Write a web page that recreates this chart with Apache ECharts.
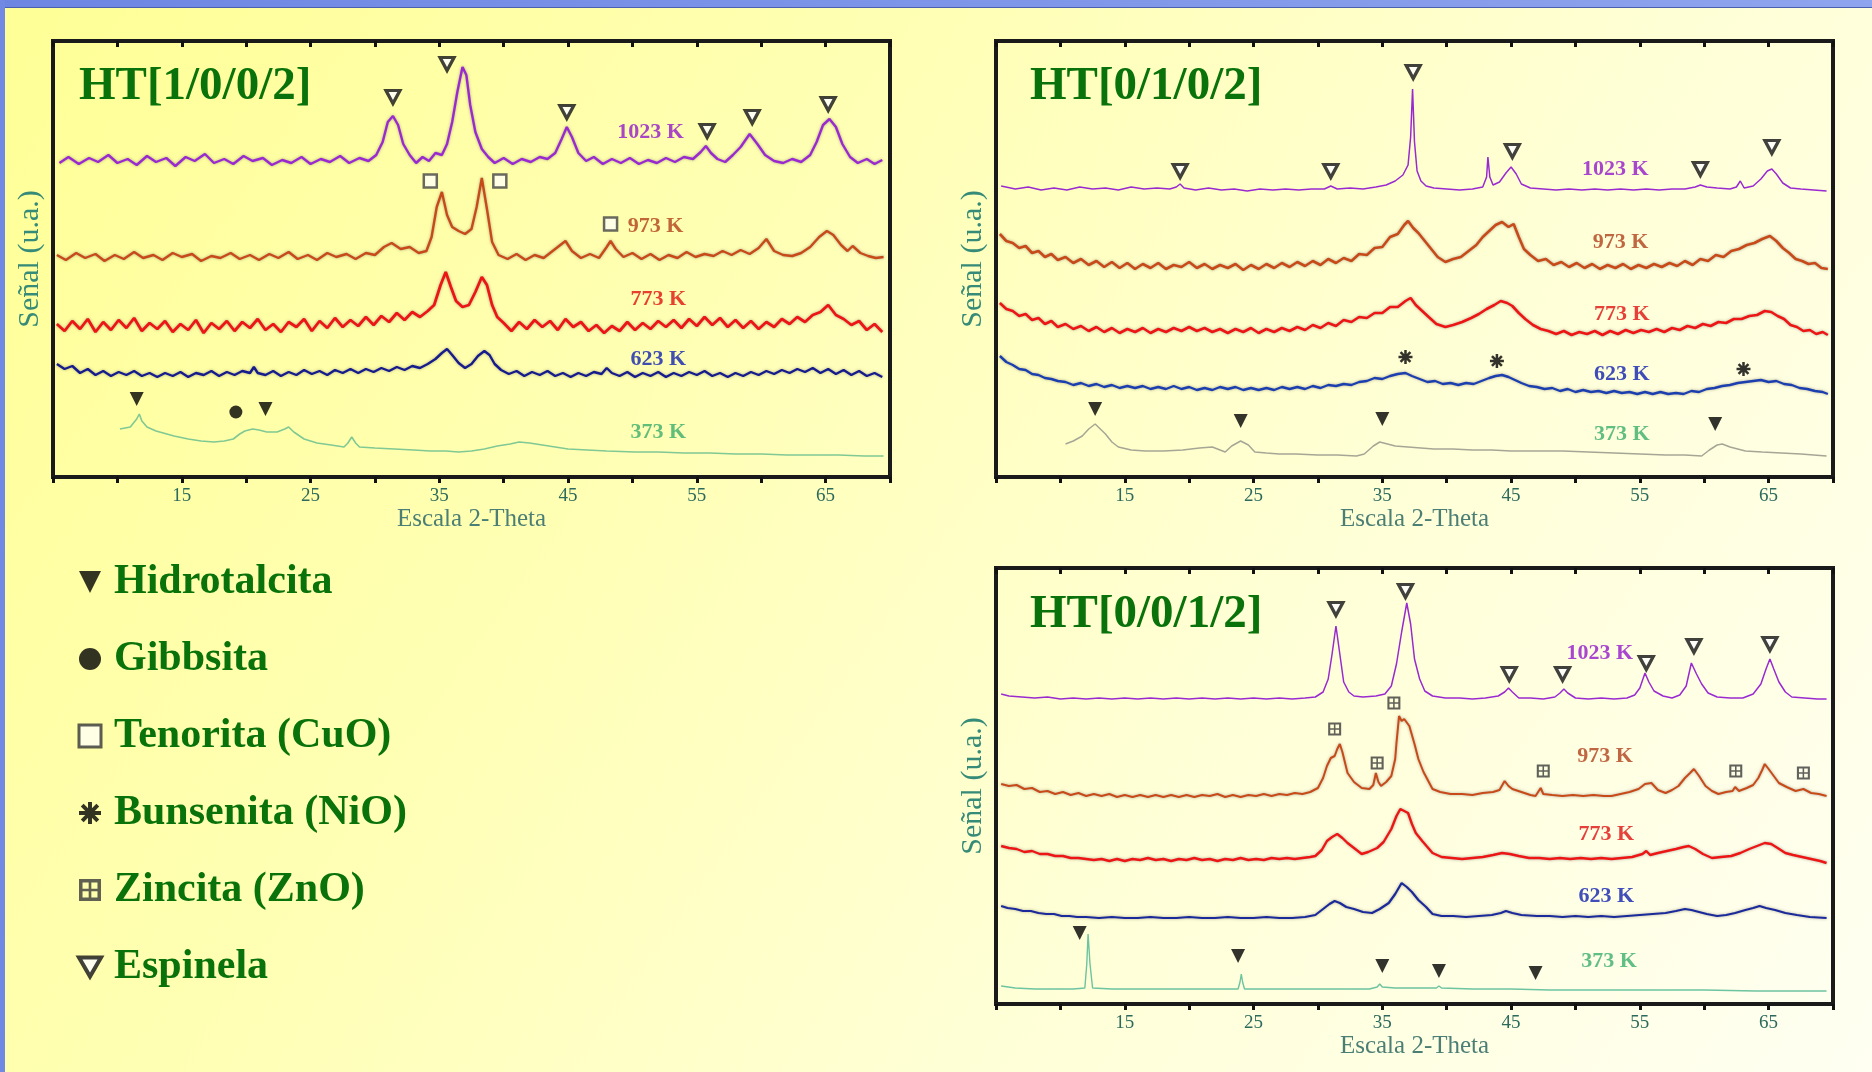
<!DOCTYPE html>
<html>
<head>
<meta charset="utf-8">
<script src="https://cdn.jsdelivr.net/npm/echarts@6/dist/echarts.min.js"></script>
<style>
  html, body { margin: 0; padding: 0; }
  body {
    width: 1872px; height: 1072px; overflow: hidden; position: relative;
    background: linear-gradient(125deg, #ffff96 0%, #ffffb4 35%, #ffffd6 65%, #fffff2 100%);
  }
  .bar-top { position: absolute; left: 0; top: 0; width: 1872px; height: 7px;
    background: linear-gradient(90deg, #6d86e2, #8ea4ee); border-bottom: 1px solid #4a5fb0; }
  .bar-left { position: absolute; left: 0; top: 0; width: 5px; height: 1072px; background: #7189e2; }
  #main { position: absolute; left: 0; top: 0; width: 1872px; height: 1072px; }
</style>
</head>
<body>
<div class="bar-top"></div>
<div class="bar-left"></div>
<div id="main"></div>
<script>
// 2-theta axis
const X_MIN = 5, X_MAX = 70, X_STEP = 5
const tickLabels = ['15', '25', '35', '45', '55', '65']
const temps = ['1023 K', '973 K', '773 K', '623 K', '373 K']
const phases = ['Hidrotalcita', 'Gibbsita', 'Tenorita (CuO)', 'Bunsenita (NiO)', 'Zincita (ZnO)', 'Espinela']
const titles = ['HT[1/0/0/2]', 'HT[0/1/0/2]', 'HT[0/0/1/2]']

// ---- HT[1/0/0/2] traces [2theta, signal] ----
const ht1_1023 = [[5.5,314],[6.2,320],[7,313],[7.8,319],[8.5,315],[9.3,322],[10,314],[10.8,318],[11.5,312],[12.3,321],[13,315],[13.8,319],[14.5,311],[15.3,320],[16,316],[16.8,323],[17.5,314],[18.3,318],[19,313],[19.8,321],[20.5,316],[21.3,319],[22,312],[22.8,317],[23.5,314],[24.3,320],[25,313],[25.8,318],[26.5,315],[27.3,321],[28,314],[28.8,319],[29.5,316],[30.1,322],[30.6,335],[31,355],[31.4,361],[31.8,352],[32.2,333],[32.7,322],[33.2,314],[33.7,320],[34.2,316],[34.7,324],[35.2,322],[35.6,333],[36,355],[36.4,385],[36.8,410],[37.1,402],[37.4,372],[37.8,345],[38.3,328],[38.8,320],[39.3,314],[40,319],[40.7,313],[41.4,318],[42.1,315],[42.8,320],[43.4,318],[44,324],[44.5,338],[44.9,350],[45.3,340],[45.8,324],[46.4,316],[47,320],[47.7,313],[48.4,318],[49.1,314],[49.8,319],[50.5,313],[51.2,317],[51.9,314],[52.6,319],[53.3,315],[54,320],[54.7,318],[55.3,325],[55.7,331],[56.1,324],[56.6,318],[57.2,315],[57.8,322],[58.4,330],[59.1,343],[59.7,333],[60.3,322],[61,316],[61.7,314],[62.4,318],[63.1,315],[63.8,322],[64.3,335],[64.8,352],[65.3,358],[65.8,350],[66.3,333],[66.9,320],[67.5,314],[68.2,318],[68.8,313],[69.4,317]]
const ht1_973 = [[5.3,222],[6,217],[6.8,224],[7.5,219],[8.3,223],[9,216],[9.8,222],[10.5,218],[11.3,225],[12,219],[12.8,222],[13.5,217],[14.3,224],[15,220],[15.8,223],[16.5,216],[17.3,221],[18,219],[18.8,224],[19.5,218],[20.3,222],[21,217],[21.8,223],[22.5,219],[23.3,225],[24,218],[24.8,222],[25.5,217],[26.3,224],[27,220],[27.8,223],[28.5,218],[29.3,224],[30,222],[30.7,230],[31.3,234],[32,228],[32.7,230],[33.4,224],[34,226],[34.4,240],[34.8,270],[35.2,285],[35.6,262],[36,250],[36.5,246],[37,243],[37.5,248],[37.9,270],[38.3,299],[38.7,268],[39.1,235],[39.6,222],[40.3,218],[41,223],[41.7,217],[42.4,222],[43.1,219],[43.8,226],[44.4,232],[44.8,236],[45.3,226],[46,219],[46.7,223],[47.4,219],[48,230],[48.3,236],[48.7,228],[49.3,220],[50,224],[50.7,218],[51.4,223],[52.1,217],[52.8,222],[53.5,219],[54.2,225],[54.9,220],[55.6,223],[56.3,221],[57,226],[57.7,222],[58.4,227],[59.1,223],[59.8,229],[60.4,238],[61,226],[61.7,222],[62.4,221],[63.1,224],[63.8,230],[64.5,240],[65.1,246],[65.6,242],[66.2,232],[66.7,226],[67.1,231],[67.7,224],[68.3,221],[68.9,219],[69.5,220]]
const ht1_773 = [[5.3,153],[5.9,146],[6.5,156],[7.1,148],[7.7,158],[8.3,145],[8.9,155],[9.5,147],[10.1,157],[10.7,149],[11.3,159],[11.9,146],[12.5,154],[13.1,148],[13.7,156],[14.3,145],[14.9,153],[15.5,147],[16.1,157],[16.7,144],[17.3,154],[17.9,148],[18.5,156],[19.1,146],[19.7,155],[20.3,149],[20.9,158],[21.5,147],[22.1,153],[22.7,145],[23.3,155],[23.9,150],[24.5,158],[25.1,146],[25.7,156],[26.3,149],[26.9,159],[27.5,150],[28.1,157],[28.7,151],[29.3,160],[29.9,152],[30.5,161],[31.1,155],[31.7,164],[32.3,157],[32.9,165],[33.5,160],[34.1,166],[34.6,172],[35.1,192],[35.5,205],[35.9,190],[36.3,176],[36.8,170],[37.3,172],[37.8,185],[38.3,200],[38.7,192],[39.1,172],[39.5,160],[40,154],[40.6,146],[41.2,155],[41.8,148],[42.4,157],[43,150],[43.6,156],[44.2,147],[44.8,158],[45.4,150],[46,155],[46.6,146],[47.2,152],[47.8,144],[48.4,151],[49,146],[49.6,155],[50.2,147],[50.8,154],[51.4,148],[52,156],[52.6,150],[53.2,157],[53.8,149],[54.4,158],[55,151],[55.6,160],[56.2,152],[56.8,159],[57.4,150],[58,157],[58.6,149],[59.2,156],[59.8,148],[60.4,155],[61,150],[61.6,158],[62.2,153],[62.8,160],[63.4,155],[64,162],[64.6,165],[65.2,172],[65.8,162],[66.4,158],[67,152],[67.6,156],[68.2,147],[68.8,153],[69.4,145]]
const ht1_623 = [[5.3,113],[5.9,108],[6.5,111],[7.1,104],[7.7,108],[8.3,102],[8.9,106],[9.5,101],[10.1,105],[10.7,102],[11.3,106],[11.9,101],[12.5,104],[13.1,100],[13.7,104],[14.3,101],[14.9,105],[15.5,100],[16.1,104],[16.7,102],[17.3,106],[17.9,101],[18.5,105],[19.1,102],[19.7,106],[20.3,104],[20.6,110],[20.9,104],[21.5,102],[22.1,106],[22.7,101],[23.3,105],[23.9,102],[24.5,107],[25.1,103],[25.7,106],[26.3,102],[26.9,107],[27.5,104],[28.1,108],[28.7,104],[29.3,108],[29.9,105],[30.5,109],[31.1,106],[31.7,110],[32.3,107],[32.9,111],[33.5,109],[34.1,113],[34.7,118],[35.2,124],[35.6,128],[36,122],[36.5,114],[37,109],[37.5,113],[38,121],[38.5,126],[38.9,122],[39.3,113],[39.8,107],[40.4,103],[41,106],[41.6,101],[42.2,105],[42.8,102],[43.4,106],[44,101],[44.6,104],[45.2,100],[45.8,104],[46.4,101],[47,105],[47.6,103],[48,109],[48.4,104],[49,101],[49.6,105],[50.2,100],[50.8,104],[51.4,101],[52,105],[52.6,100],[53.2,104],[53.8,101],[54.4,105],[55,102],[55.6,106],[56.2,101],[56.8,104],[57.4,100],[58,104],[58.6,101],[59.2,105],[59.8,102],[60.4,106],[61,103],[61.6,107],[62.2,104],[62.8,108],[63.4,105],[64,109],[64.6,104],[65.2,108],[65.8,103],[66.4,107],[67,102],[67.6,106],[68.2,101],[68.8,104],[69.4,100]]
const ht1_373 = [[10.2,48],[11,50],[11.5,58],[11.7,63],[11.9,56],[12.3,50],[13,46],[14.4,41],[15.5,38],[16.5,36],[17.5,35],[18.3,36],[19,38],[19.5,43],[19.9,46],[20.5,48],[21,47],[21.6,45],[22.4,45],[23,48],[23.3,50],[23.7,45],[24.5,38],[25.5,34],[26.6,32],[27.6,30],[27.9,34],[28.2,40],[28.5,34],[28.8,30],[30,29],[31.5,28],[33,27],[34.3,26],[35.5,26],[36.5,25],[37.5,26],[38.5,28],[39.5,31],[40.5,33],[41.2,35],[42,34],[43,32],[44,30],[45,28],[46.5,27],[48,26],[50.2,25],[52,25],[54,24],[56,24],[58,23],[60,23],[62,22],[64,22],[66,22],[68,21],[69.5,21]]

// ---- HT[0/1/0/2] ----
const ht2_1023 = [[5.4,291],[6.5,288],[7.5,290],[8.5,287],[9.5,289],[10.5,287],[11.5,290],[12.5,288],[13.5,289],[14.5,287],[15.5,290],[16.5,288],[17.5,289],[18.5,288],[19,290],[19.3,293],[19.6,289],[20.5,287],[21.5,289],[22.5,287],[23.5,288],[24.5,286],[25.5,288],[26.5,287],[27.5,288],[28.5,287],[29.5,288],[30.5,288],[31,291],[31.5,288],[32.5,289],[33.5,288],[34.5,290],[35.3,292],[36,296],[36.6,302],[37,312],[37.2,340],[37.35,388],[37.5,335],[37.7,306],[38,296],[38.4,291],[39,289],[40,288],[41,287],[42,288],[42.8,290],[43.1,300],[43.2,320],[43.35,300],[43.6,292],[44.1,295],[44.6,304],[45,310],[45.4,303],[45.8,293],[46.5,289],[47.5,288],[48.5,287],[49.5,288],[50.5,287],[51.5,288],[52.5,287],[53.5,288],[54.5,287],[55.5,288],[56.5,287],[57.5,288],[58.5,288],[59.3,290],[59.7,292],[60.2,290],[61,289],[62,288],[62.5,290],[62.8,296],[63.1,289],[63.8,291],[64.4,298],[64.9,306],[65.25,308],[65.6,303],[66.1,294],[66.7,289],[67.5,288],[68.5,287],[69.5,286]]
const ht2_973 = [[5.3,243],[5.8,236],[6.3,234],[6.8,229],[7.3,231],[7.8,224],[8.3,226],[8.8,220],[9.3,223],[9.8,217],[10.4,220],[11,214],[11.6,218],[12.2,212],[12.8,216],[13.4,210],[14,215],[14.6,209],[15.2,214],[15.8,208],[16.4,213],[17,209],[17.6,214],[18.2,208],[18.8,212],[19.4,210],[20,215],[20.6,209],[21.2,213],[21.8,208],[22.4,212],[23,209],[23.6,213],[24.2,207],[24.8,212],[25.4,208],[26,213],[26.6,209],[27.2,214],[27.8,210],[28.4,215],[29,211],[29.6,216],[30.2,212],[30.8,218],[31.4,214],[32,219],[32.6,216],[33.2,223],[33.8,222],[34.4,229],[35,230],[35.6,240],[36.2,243],[36.7,252],[37,256],[37.4,249],[37.8,244],[38.3,236],[38.8,228],[39.3,220],[39.9,215],[40.5,218],[41.1,220],[41.7,226],[42.3,232],[42.8,240],[43.3,246],[43.8,252],[44.3,255],[44.8,250],[45.2,253],[45.6,240],[46,228],[46.5,222],[47.1,216],[47.7,218],[48.3,212],[48.9,215],[49.5,210],[50.1,214],[50.7,209],[51.3,213],[51.9,208],[52.5,212],[53.1,209],[53.7,213],[54.3,208],[54.9,212],[55.5,209],[56.1,213],[56.7,210],[57.3,214],[57.9,211],[58.5,216],[59.1,212],[59.7,218],[60.3,216],[60.9,222],[61.5,220],[62.1,226],[62.7,228],[63.3,232],[63.9,234],[64.5,238],[65.1,241],[65.6,236],[66.1,229],[66.6,224],[67.1,218],[67.6,216],[68.1,213],[68.6,214],[69.1,209],[69.6,208]]
const ht2_773 = [[5.3,174],[5.8,168],[6.3,166],[6.8,161],[7.3,163],[7.8,157],[8.3,159],[8.8,153],[9.3,156],[9.8,150],[10.4,153],[11,148],[11.6,151],[12.2,146],[12.8,150],[13.4,145],[14,149],[14.6,144],[15.2,148],[15.8,145],[16.4,149],[17,144],[17.6,148],[18.2,145],[18.8,149],[19.4,146],[20,150],[20.6,146],[21.2,149],[21.8,145],[22.4,148],[23,144],[23.6,148],[24.2,145],[24.8,149],[25.4,144],[26,148],[26.6,145],[27.2,149],[27.8,146],[28.4,150],[29,147],[29.6,152],[30.2,149],[30.8,154],[31.4,151],[32,157],[32.6,155],[33.2,160],[33.8,159],[34.4,164],[35,164],[35.6,170],[36.2,170],[36.8,176],[37.2,179],[37.6,172],[38.1,166],[38.6,160],[39.2,153],[39.9,150],[40.5,152],[41.2,155],[41.9,159],[42.5,163],[43.1,168],[43.7,172],[44.2,176],[44.7,174],[45.1,171],[45.6,164],[46.1,158],[46.7,152],[47.3,148],[47.9,146],[48.5,143],[49.1,146],[49.7,142],[50.3,145],[50.9,143],[51.5,146],[52.1,142],[52.7,146],[53.3,143],[53.9,147],[54.5,144],[55.1,147],[55.7,145],[56.3,148],[56.9,145],[57.5,149],[58.1,147],[58.7,151],[59.3,149],[59.9,153],[60.5,151],[61.1,155],[61.7,154],[62.3,158],[62.9,158],[63.5,161],[64.1,162],[64.7,166],[65.2,165],[65.7,161],[66.2,158],[66.7,152],[67.2,150],[67.7,146],[68.2,147],[68.7,143],[69.2,145],[69.6,142]]
const ht2_623 = [[5.3,121],[5.8,115],[6.3,112],[6.8,108],[7.3,107],[7.8,103],[8.3,102],[8.8,99],[9.3,98],[9.8,96],[10.4,95],[11,92],[11.6,94],[12.2,91],[12.8,93],[13.4,90],[14,92],[14.6,89],[15.2,91],[15.8,89],[16.4,91],[17,88],[17.6,90],[18.2,88],[18.8,91],[19.4,88],[20,90],[20.6,87],[21.2,89],[21.8,87],[22.4,90],[23,88],[23.6,90],[24.2,87],[24.8,89],[25.4,87],[26,89],[26.6,87],[27.2,90],[27.8,88],[28.4,90],[29,88],[29.6,91],[30.2,89],[30.8,92],[31.4,91],[32,93],[32.6,92],[33.2,95],[33.8,96],[34.4,99],[35,98],[35.6,101],[36.2,103],[36.8,104],[37.3,101],[37.9,98],[38.5,95],[39.1,96],[39.7,93],[40.3,94],[40.9,92],[41.5,94],[42.1,93],[42.7,96],[43.3,99],[43.8,101],[44.3,102],[44.8,100],[45.3,97],[45.8,94],[46.4,91],[47,90],[47.6,88],[48.2,89],[48.8,86],[49.4,88],[50,85],[50.6,87],[51.2,85],[51.8,86],[52.4,84],[53,86],[53.6,84],[54.2,85],[54.8,83],[55.4,85],[56,83],[56.6,85],[57.2,83],[57.8,84],[58.4,83],[59,86],[59.6,85],[60.2,88],[60.8,89],[61.4,91],[62,92],[62.6,94],[63.2,95],[63.8,96],[64.4,97],[65,95],[65.6,96],[66.2,93],[66.8,92],[67.4,89],[68,88],[68.6,86],[69.2,85],[69.6,83]]
const ht2_373 = [[10.4,33],[11,36],[11.7,41],[12.2,48],[12.7,53],[13.1,48],[13.5,43],[14,35],[14.5,30],[15.5,27],[16.6,26],[18,26],[19.5,27],[20.8,29],[21.8,30],[22.8,25],[23.3,31],[24,36],[24.6,32],[25.1,25],[26,24],[27,23],[28.3,23],[30,22],[31.5,22],[33,21],[33.6,23],[34.3,31],[34.8,35],[35.4,33],[36,31],[37,30],[38,29],[39,28],[40.5,28],[42,27],[43.5,27],[45,26],[47,26],[49,26],[51,25],[53,24],[55,23],[57,22],[58.5,22],[59.8,21],[60.4,27],[61,32],[61.4,33],[62,30],[62.6,28],[63.2,26],[64.5,25],[66,24],[67.5,23],[69.5,21]]

// ---- HT[0/0/1/2] ----
const ht3_1023 = [[5.4,310],[6,308],[7,307],[8,306],[9,307],[10,305],[11,306],[12,305],[13,306],[14,305],[15,306],[16,305],[17,306],[18,305],[19,306],[20,305],[21,306],[22,305],[23,306],[24,305],[25,306],[26,305],[27,306],[28,305],[29,306],[29.8,307],[30.4,312],[30.8,325],[31.1,350],[31.4,378],[31.7,350],[32,322],[32.4,312],[32.8,308],[33.5,307],[34.5,308],[35.2,310],[35.7,318],[36.1,340],[36.5,372],[36.9,401],[37.2,380],[37.5,345],[37.9,325],[38.3,313],[38.9,308],[39.9,306],[41,306],[42,305],[43,306],[44,308],[44.5,312],[44.8,316],[45.1,312],[45.6,306],[46.5,306],[47.5,305],[48.4,307],[48.8,311],[49.1,315],[49.4,311],[50,306],[51,305],[52,306],[53,305],[54,306],[54.6,309],[55,316],[55.4,331],[55.7,322],[56.1,313],[56.8,308],[57.5,306],[58.1,309],[58.6,318],[59,341],[59.4,330],[59.8,320],[60.3,311],[61,307],[62,306],[63,306],[63.8,310],[64.4,320],[64.8,335],[65.1,345],[65.4,335],[65.8,322],[66.3,312],[66.8,307],[67.8,306],[68.8,305],[69.5,305]]
const ht3_973 = [[5.4,220],[6,218],[6.6,219],[7.2,215],[7.8,216],[8.4,212],[9,213],[9.6,210],[10.2,212],[10.8,209],[11.4,211],[12,208],[12.6,210],[13.2,208],[13.8,210],[14.4,207],[15,209],[15.6,207],[16.2,209],[16.8,207],[17.4,209],[18,207],[18.6,209],[19.2,207],[19.8,209],[20.4,207],[21,209],[21.6,208],[22.2,210],[22.8,207],[23.4,209],[24,207],[24.6,209],[25.2,208],[25.8,210],[26.4,208],[27,210],[27.6,209],[28.2,211],[28.8,210],[29.4,212],[30,216],[30.4,226],[30.7,238],[31,246],[31.3,248],[31.5,255],[31.7,260],[31.9,252],[32.3,231],[32.8,222],[33.4,216],[34,215],[34.3,219],[34.5,231],[34.7,222],[34.9,218],[35.3,222],[35.7,228],[36,245],[36.1,261],[36.3,288],[36.5,283],[36.7,285],[37.1,278],[37.5,260],[37.8,245],[38.2,232],[38.9,215],[39.5,212],[40.3,210],[41.2,210],[42,209],[42.8,211],[43.6,212],[44.1,214],[44.5,223],[44.8,218],[45.1,215],[45.8,212],[46.5,209],[46.9,208],[47.3,216],[47.5,210],[48.2,209],[49,208],[49.8,209],[50.6,208],[51.4,209],[52.2,208],[52.8,208],[53.5,210],[54.2,212],[54.9,215],[55.4,220],[55.9,221],[56.4,214],[57,211],[57.5,214],[58,218],[58.5,226],[58.9,231],[59.2,235],[59.6,228],[60.1,218],[60.6,213],[61.1,210],[61.7,212],[62.2,213],[62.4,217],[62.7,213],[63.3,216],[63.8,219],[64.2,226],[64.5,234],[64.7,240],[65,235],[65.4,228],[65.8,221],[66.4,217],[67.1,213],[67.7,215],[68.3,211],[68.9,210],[69.5,208]]
const ht3_773 = [[5.4,158],[6,156],[6.6,155],[7.2,152],[7.8,153],[8.4,150],[9,150],[9.6,148],[10.2,148],[10.8,146],[11.4,146],[12,145],[12.6,144],[13.2,145],[13.8,143],[14.4,145],[15,143],[15.6,145],[16.2,144],[16.8,146],[17.4,144],[18,145],[18.6,143],[19.2,145],[19.8,144],[20.4,146],[21,144],[21.6,145],[22.2,143],[22.8,145],[23.4,144],[24,146],[24.6,144],[25.2,145],[25.8,144],[26.4,146],[27,145],[27.6,146],[28.2,145],[28.8,146],[29.4,147],[29.8,148],[30.3,154],[30.7,163],[31.1,167],[31.5,170],[31.9,166],[32.3,161],[32.8,156],[33.4,150],[33.9,152],[34.6,156],[35.1,162],[35.7,175],[36.1,188],[36.4,195],[36.7,193],[37,191],[37.3,180],[37.6,171],[38.1,163],[38.9,151],[39.6,147],[40.4,146],[41.2,145],[42,146],[42.8,147],[43.6,149],[44.3,151],[44.9,150],[45.6,148],[46.4,146],[47.2,146],[48,145],[48.8,146],[49.6,145],[50.4,146],[51.2,145],[52,146],[52.8,145],[53.6,146],[54.4,147],[55.2,150],[55.5,153],[55.8,149],[56.4,151],[57.1,153],[57.8,155],[58.4,157],[58.8,158],[59.3,155],[59.9,150],[60.6,146],[61.3,147],[62.1,148],[62.8,151],[63.5,155],[64.1,158],[64.7,161],[65.2,160],[65.7,156],[66.3,151],[66.9,149],[67.6,147],[68.3,145],[69,143],[69.5,141]]
const ht3_623 = [[5.4,98],[5.9,96],[6.5,95],[7.1,93],[7.7,93],[8.3,91],[8.9,90],[9.5,90],[10.1,88],[10.7,88],[11.3,87],[12,87],[13,86],[14,87],[15,86],[16,86],[17,87],[18,86],[19,86],[20,87],[21,86],[22,86],[23,87],[24,86],[25,86],[26,87],[27,86],[28,86],[29,87],[29.8,89],[30.4,95],[30.9,100],[31.3,103],[31.7,101],[32.2,97],[32.8,95],[33.5,92],[34.2,91],[34.8,95],[35.5,101],[36,110],[36.5,121],[36.9,117],[37.3,112],[37.8,104],[38.4,97],[38.9,90],[39.6,88],[40.5,88],[41.5,87],[42.5,88],[43.5,89],[44.2,91],[44.6,93],[45.1,91],[45.8,89],[47,88],[48,88],[49,87],[50,88],[51,87],[52,88],[53,87],[54,88],[55,89],[56,90],[57,91],[57.8,93],[58.5,95],[59,94],[59.6,92],[60.2,90],[61,88],[61.7,89],[62.4,91],[63.2,94],[63.8,96],[64.3,98],[64.8,96],[65.5,94],[66.3,91],[67.2,89],[68.2,87],[69.5,86]]
const ht3_373 = [[5.4,18],[6.5,16],[8,15],[9.5,15],[11,15],[11.9,16],[12.05,40],[12.15,70],[12.3,40],[12.5,16],[14,15],[16,15],[18,15],[20,15],[22,15],[23.8,15],[23.95,22],[24.05,30],[24.15,22],[24.3,15],[26,15],[28,15],[30,15],[32,15],[34,15],[34.6,17],[34.8,20],[35,17],[36,16],[38,16],[39.2,16],[39.4,18],[39.6,16],[42,15],[45,15],[48,14],[52,14],[56,14],[60,14],[64,13],[69.5,13]]

// phase markers [2theta, signal]
const ht1_hidrotalcita = [[11.5,78],[21.5,68]]
const ht1_gibbsita = [[19.2,65]]
const ht1_tenorita = [[34.3,296],[39.7,296],[48.3,253]]
const ht1_espinela = [[31.4,380],[35.6,413],[44.9,365],[55.8,346],[59.3,360],[65.2,373]]
const ht2_hidrotalcita = [[12.7,68],[24.0,56],[35.0,58],[60.85,53]]
const ht2_bunsenita = [[36.8,120],[43.9,116],[63.05,108]]
const ht2_espinela = [[19.3,306],[31.0,306],[37.4,405],[45.1,326],[59.7,308],[65.25,330]]
const ht3_hidrotalcita = [[11.5,71],[23.8,48],[35.0,38],[39.4,33],[46.9,31]]
const ht3_zincita = [[31.3,275],[34.6,241],[35.9,301],[47.5,233],[62.45,233],[67.7,231]]
const ht3_espinela = [[31.4,395],[36.8,413],[44.86,330],[49.0,330],[55.5,341],[59.2,358],[65.1,360]]

// temperature label anchors, same order as temps
const ht1_labelPos = [[51.4,345],[51.8,251],[52,178],[52,118],[52,45]]
const ht2_labelPos = [[53.1,308],[53.5,235],[53.6,163],[53.6,103],[53.6,43]]
const ht3_labelPos = [[51.9,351],[52.3,248],[52.4,170],[52.4,108],[52.6,43]]

const SERIF = '"Liberation Serif", "Times New Roman", serif'
const labelColors = ['#9418cc', '#b0401a', '#e01010', '#1020b0', '#3aae6a']

const panels = [
  {
    traces: [ht1_1023, ht1_973, ht1_773, ht1_623, ht1_373],
    colors: ['#9a2ad0', '#c84a18', '#ee1515', '#161c8c', '#80c894'],
    widths: [2.4, 2.4, 2.8, 2.4, 1.6],
    noisy: [true, true, true, true, false],
    labels: ht1_labelPos,
    markers: { 'Hidrotalcita': ht1_hidrotalcita, 'Gibbsita': ht1_gibbsita, 'Tenorita (CuO)': ht1_tenorita, 'Espinela': ht1_espinela },
    grid: { left: 53, top: 41, width: 837, height: 436 },
    title: { left: 74, top: 58 },
  },
  {
    traces: [ht2_1023, ht2_973, ht2_773, ht2_623, ht2_373],
    colors: ['#9a2ad0', '#c84a18', '#ee1515', '#1c3fb0', '#a6a696'],
    widths: [1.5, 2.6, 2.6, 2.4, 1.5],
    noisy: [false, true, true, true, false],
    labels: ht2_labelPos,
    markers: { 'Hidrotalcita': ht2_hidrotalcita, 'Bunsenita (NiO)': ht2_bunsenita, 'Espinela': ht2_espinela },
    grid: { left: 996, top: 41, width: 837, height: 436 },
    title: { left: 1025, top: 58 },
  },
  {
    traces: [ht3_1023, ht3_973, ht3_773, ht3_623, ht3_373],
    colors: ['#9a2ad0', '#c84a18', '#ee1515', '#1a2a9a', '#6cc4a0'],
    widths: [1.5, 2, 2.4, 2.2, 1.4],
    noisy: [false, true, true, true, false],
    labels: ht3_labelPos,
    markers: { 'Hidrotalcita': ht3_hidrotalcita, 'Zincita (ZnO)': ht3_zincita, 'Espinela': ht3_espinela },
    grid: { left: 996, top: 568, width: 837, height: 436 },
    title: { left: 1025, top: 586 },
  },
]

const phaseStyle = {
  'Hidrotalcita': { symbol: 'path://M0,0L10,0L5,10Z', symbolSize: [14, 14], itemStyle: { color: '#000' } },
  'Gibbsita': { symbol: 'circle', symbolSize: 13, itemStyle: { color: '#000' } },
  'Tenorita (CuO)': { symbol: 'rect', symbolSize: 13, itemStyle: { color: '#fffff4', borderColor: '#444', borderWidth: 2.5 } },
  'Bunsenita (NiO)': {
    symbol: 'path://M0,4.1H10V5.9H0Z M4.1,0H5.9V10H4.1Z M2.1,0.82L9.18,7.9L7.9,9.18L0.82,2.1Z M7.9,0.82L9.18,2.1L2.1,9.18L0.82,7.9Z',
    symbolSize: 14, itemStyle: { color: '#000' },
  },
  'Zincita (ZnO)': {
    symbol: 'path://M0,0H10V10H0Z M1.6,1.6V4.4H4.4V1.6Z M5.6,1.6V4.4H8.4V1.6Z M1.6,5.6V8.4H4.4V5.6Z M5.6,5.6V8.4H8.4V5.6Z',
    symbolSize: 13, itemStyle: { color: '#3a3a3a' },
  },
  'Espinela': { symbol: 'path://M0,0L14,0L7,12Z', symbolSize: [14, 13], itemStyle: { color: '#fff', borderColor: '#111', borderWidth: 3.2 } },
}

// heavier outlines for the legend icons
const legendIconStyle = {
  'Tenorita (CuO)': { borderColor: '#333', borderWidth: 3 },
  'Espinela': { borderColor: '#111', borderWidth: 4 },
}

const chart = echarts.init(document.getElementById('main'))

const xAxes = []
const yAxes = []
const series = []

panels.forEach((p, i) => {
  xAxes.push({
    gridIndex: i, type: 'value', min: X_MIN, max: X_MAX, interval: X_STEP, position: 'bottom',
    axisLine: { show: false },
    axisTick: { show: true, inside: false, length: 6, lineStyle: { color: '#111', width: 3 } },
    axisLabel: {
      margin: 10, color: '#2b6a5c', fontFamily: SERIF, fontSize: 19,
      formatter: v => tickLabels.includes(String(v)) ? String(v) : '',
    },
    splitLine: { show: false },
    name: 'Escala 2-Theta', nameLocation: 'middle', nameGap: 26,
    nameTextStyle: { color: '#4b7f75', fontFamily: SERIF, fontSize: 25 },
  })
  xAxes.push({
    gridIndex: i, type: 'value', min: X_MIN, max: X_MAX, interval: X_STEP, position: 'top',
    axisLine: { show: false },
    axisTick: { show: true, inside: true, length: 6, lineStyle: { color: '#111', width: 3 } },
    axisLabel: { show: false },
    splitLine: { show: false },
  })
  yAxes.push({
    gridIndex: i, type: 'value', min: 0, max: 436,
    axisLine: { show: false }, axisTick: { show: false }, axisLabel: { show: false }, splitLine: { show: false },
    name: 'Señal (u.a.)', nameLocation: 'middle', nameGap: 8, nameRotate: 90,
    nameTextStyle: { color: '#358b77', fontFamily: SERIF, fontSize: 30 },
  })

  p.traces.forEach((d, k) => {
    series.push({
      type: 'line', xAxisIndex: 2 * i, yAxisIndex: i, data: d,
      symbol: 'none', silent: true, z: 2,
      lineStyle: Object.assign(
        { color: p.colors[k], width: p.widths[k] },
        p.noisy[k] ? { shadowColor: 'rgba(110,100,90,0.55)', shadowBlur: 3 } : {}
      ),
    })
  })

  series.push({
    type: 'scatter', xAxisIndex: 2 * i, yAxisIndex: i, symbolSize: 1, silent: true, z: 3,
    itemStyle: { color: 'rgba(0,0,0,0)' },
    data: p.labels.map((pos, k) => ({ value: pos, label: { color: labelColors[k] } })),
    label: {
      show: true, position: 'inside', fontFamily: SERIF, fontWeight: 'bold', fontSize: 22,
      formatter: q => temps[q.dataIndex],
    },
  })

  Object.keys(p.markers).forEach(name => {
    series.push(Object.assign({
      type: 'scatter', name, xAxisIndex: 2 * i, yAxisIndex: i, data: p.markers[name], z: 4, silent: true,
    }, phaseStyle[name]))
  })
})

chart.setOption({
  animation: false,
  backgroundColor: 'transparent',
  title: panels.map((p, i) => ({
    text: titles[i], left: p.title.left, top: p.title.top,
    textStyle: { fontFamily: SERIF, fontWeight: 'bold', fontSize: 47, color: '#0a720a' },
  })),
  legend: {
    data: phases.map(name => legendIconStyle[name] ? { name, itemStyle: legendIconStyle[name] } : name),
    orient: 'vertical', left: 72, top: 556, itemGap: 35,
    itemWidth: 22, itemHeight: 22, selectedMode: false,
    textStyle: { fontFamily: SERIF, fontWeight: 'bold', fontSize: 42, color: '#0a720a', padding: [0, 0, 0, 8] },
  },
  grid: panels.map(p => Object.assign({ show: true, borderColor: '#1a1a1a', borderWidth: 4, backgroundColor: 'transparent' }, p.grid)),
  xAxis: xAxes,
  yAxis: yAxes,
  series,
})
</script>
</body>
</html>
